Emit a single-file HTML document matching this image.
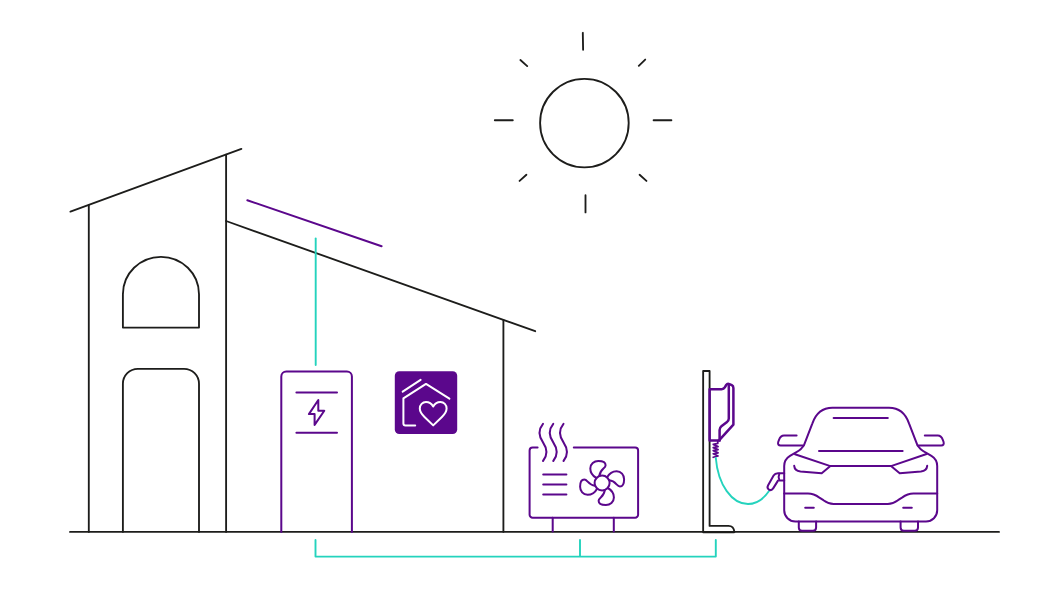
<!DOCTYPE html>
<html lang="en">
<head>
<meta charset="utf-8">
<title>Home energy illustration</title>
<style>
html,body{margin:0;padding:0;background:#fff;}
body{width:1063px;height:600px;overflow:hidden;font-family:"Liberation Sans",sans-serif;}
svg{display:block;}
.k{stroke:#1d1d1b;stroke-width:1.85;fill:none;stroke-linecap:round;stroke-linejoin:round;}
.p{stroke:#5b078c;stroke-width:2;fill:none;stroke-linecap:round;stroke-linejoin:round;}
.t{stroke:#24d3bd;stroke-width:1.9;fill:none;stroke-linecap:round;stroke-linejoin:round;}
.w{stroke:#fff;stroke-width:2;fill:none;stroke-linecap:round;stroke-linejoin:round;}
</style>
</head>
<body>
<svg width="1063" height="600" viewBox="0 0 1063 600" role="img" aria-label="House with solar panel, battery, heat pump, charger and electric car">
<rect width="1063" height="600" fill="#fff"/>

<!-- sun -->
<g class="k">
<circle cx="584.4" cy="123.1" r="44.3"/>
<path d="M582.8 32.8L583.1 49.8M585.5 195.2V212.4M494.8 120.2H512.8M653.6 120.2H671.4M520.4 60L527.2 66.1M645.2 59.6L638.8 65.8M519.6 180.9L526.4 174.8M639.6 174.8L646.4 180.9"/>
</g>

<!-- house -->
<g class="k">
<path d="M70.4 211.6L241.4 148.9"/>
<path d="M88.8 205V531.9"/>
<path d="M226.1 154.6V531.9"/>
<path d="M226.1 221L535.2 331.2"/>
<path d="M503.4 320V531.9"/>
<path d="M122.9 327.6V294.2A38.05 37.4 0 0 1 199 294.2V327.6Z"/>
<path d="M122.9 531.9V383.8A15 15 0 0 1 137.9 368.8H184A15 15 0 0 1 199 383.8V531.9"/>
<path d="M70 531.9H999"/>
</g>

<!-- solar panel -->
<path class="p" d="M247.3 200.2L381.6 246.3"/>

<!-- teal links -->
<path class="t" d="M315.7 238.4V365"/>
<path class="t" d="M315.5 540V556.6H715.8V540M580 540V556.6"/>

<!-- battery -->
<g class="p">
<path d="M281.3 531.9V376.5A5 5 0 0 1 286.3 371.5H346.9A5 5 0 0 1 351.9 376.5V531.9"/>
<path d="M296.4 392.4H337M296.4 432.8H337"/>
<path d="M318.3 400L308.9 414.1H314.6V424.9L324.3 410.8H318.3Z"/>
</g>

<!-- badge -->
<rect x="394.8" y="371.2" width="62.4" height="62.8" rx="4.5" fill="#5b078c"/>
<g class="w">
<path d="M415.2 425.4H405.4A2 2 0 0 1 403.4 423.4V398.4L426 383.9L449.4 398.7"/>
<path d="M402.7 391.6L420.6 379.9"/>
<path d="M433.2 406.5C431.5 403.5 428.5 402 426 402C422.5 402 419.8 404.8 419.8 408.5C419.8 412 422 414.5 424.5 417L433.2 425.4L441.9 417C444.4 414.5 446.6 412 446.6 408.5C446.6 404.8 443.9 402 440.4 402C437.9 402 434.9 403.5 433.2 406.5Z"/>
</g>

<!-- heat pump -->
<g class="p">
<path d="M537.6 447.5H532.6A3 3 0 0 0 529.6 450.5V514.7A3 3 0 0 0 532.6 517.7H635.1A3 3 0 0 0 638.1 514.7V450.5A3 3 0 0 0 635.1 447.5H573.8"/>
<path d="M552.7 517.7V531.5M613.8 517.7V531.5"/>
<path d="M543.2 474.4H566.4M543.2 484.4H566.4M543.2 494.5H566.4"/>
<path id="wv" d="M543 423.8C538.3 429.5 538.3 435.5 543 442.4C547.7 449.3 547.7 455.3 543 461"/>
<path d="M553.25 423.8C548.55 429.5 548.55 435.5 553.25 442.4C557.95 449.3 557.95 455.3 553.25 461"/>
<path d="M563.5 423.8C558.8 429.5 558.8 435.5 563.5 442.4C568.2 449.3 568.2 455.3 563.5 461"/>
<g transform="translate(602.1 483)">
<circle r="7.5"/>
<path id="bl" d="M-5.7 -5C-8.6 -6.6 -11.8 -9.5 -11.8 -14.5C-11.8 -19 -8 -22 -3.8 -22C0 -22 3.5 -21 3.5 -17.8C3.5 -14.5 -2 -14 -2.7 -7.1"/>
<path transform="rotate(90)" d="M-5.7 -5C-8.6 -6.6 -11.8 -9.5 -11.8 -14.5C-11.8 -19 -8 -22 -3.8 -22C0 -22 3.5 -21 3.5 -17.8C3.5 -14.5 -2 -14 -2.7 -7.1"/>
<path transform="rotate(180)" d="M-5.7 -5C-8.6 -6.6 -11.8 -9.5 -11.8 -14.5C-11.8 -19 -8 -22 -3.8 -22C0 -22 3.5 -21 3.5 -17.8C3.5 -14.5 -2 -14 -2.7 -7.1"/>
<path transform="rotate(270)" d="M-5.7 -5C-8.6 -6.6 -11.8 -9.5 -11.8 -14.5C-11.8 -19 -8 -22 -3.8 -22C0 -22 3.5 -21 3.5 -17.8C3.5 -14.5 -2 -14 -2.7 -7.1"/>
</g>
</g>

<!-- charger post -->
<path class="k" d="M703.15 532.2V371H709.6V525.9H728.5Q733.8 525.9 734.4 532.2Z"/>
<!-- charger -->
<g class="p" style="stroke-width:2.5">
<path d="M709.6 389.2H721.6Q723.8 389.2 724.8 387.4L726.2 385Q727.4 383.2 729.4 384.1L731.8 385.2Q733.4 386 733.4 388V424.6L719.5 439.8V440.4H709.6Z"/>
<path d="M728.8 384.3V418.6Q728.8 420.8 727 422L721.4 426.2Q719.6 427.6 719.6 430V440.4"/>
</g>
<path class="p" style="stroke-width:1.7" d="M717.8 440.5V443.4L713.2 444.4L718.1 446.6L713.2 447.6L718.1 449.6L713.2 450.6L718.1 452.8L713.2 453.8L718.1 456L713.2 457.3"/>
<!-- cable -->
<path class="t" d="M715.8 458C718 485 732 504 748 504C758 504 765 497 769.2 490.8"/>
<!-- plug -->
<g class="p">
<path d="M784.2 473.3H778Q775 473.3 773.6 475.6L768 485.6Q766.6 488.2 769 489.7Q771.6 491 773 488.6L778 480.6"/>
<path d="M779.3 473.8Q777.8 477 779.4 480.4H784.2"/>
</g>

<!-- car -->
<g class="p">
<path d="M784.2 510.3V466C784.2 460.4 786.4 458 790 455.8L796 452.3Q801.8 449.4 804.2 444.6L812.3 423.6C816 413 822 407.8 832.4 407.8H889C899.4 407.8 905.4 413 909.1 423.6L917.2 444.6Q919.6 449.4 925.4 452.3L931.4 455.8C935 458 937.2 460.4 937.2 466V510.3A11.2 11.2 0 0 1 926 521.5H795.4A11.2 11.2 0 0 1 784.2 510.3Z"/>
<path d="M833.6 418H887.8"/>
<path d="M819 451H902.6"/>
<path d="M796.6 435.5H784Q780.6 435.5 779 439.8L778.2 442Q777.4 445.5 780.6 445.5H803.6"/>
<path d="M924.8 435.5H937.8Q941.2 435.5 942.8 439.8L943.6 442Q944.4 445.5 941.2 445.5H917.6"/>
<path d="M795 454.2L830.4 466.1H891L926.6 454"/>
<path d="M830.4 466.1L821.7 473.3L800.5 471.4Q794.6 470.6 794.2 465.8"/>
<path d="M891 466.1L899.7 473.3L920.9 471.4Q926.8 470.6 927.2 465.8"/>
<path d="M784.2 493.6H808Q813.6 493.6 819.4 497.6L823.4 500.2Q828.6 503.9 833.6 503.9H887.8Q892.8 503.9 898 500.2L902 497.6Q907.8 493.6 913.4 493.6H937.2"/>
<path d="M805.2 507.7H813.8M903.2 507.7H911.8"/>
<path d="M798.8 521.5V527.6Q798.8 530.8 802 530.8H813Q816.1 530.8 816.1 527.6V521.5"/>
<path d="M900.6 521.5V527.6Q900.6 530.8 903.8 530.8H914.8Q918 530.8 918 527.6V521.5"/>
</g>
</svg>
</body>
</html>
